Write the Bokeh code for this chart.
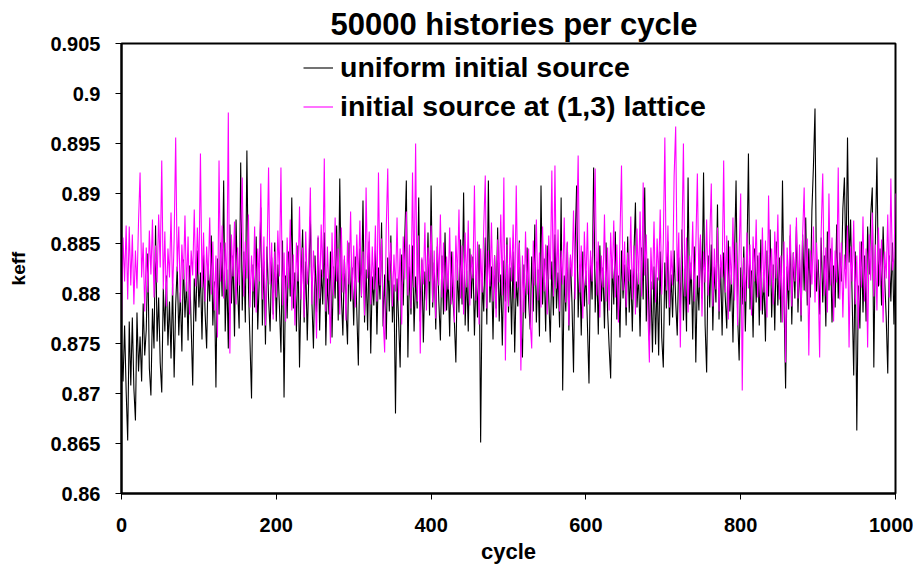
from bokeh.plotting import figure
from bokeh.models import FixedTicker, CustomJSTickFormatter, Legend, LegendItem
from bokeh.embed import file_html
from bokeh.resources import INLINE

# ---------------- data (keff, every 2nd cycle) ----------------
title_text = "50000 histories per cycle"
series_names = ["uniform initial source", "initial source at (1,3) lattice"]
x_ticks = [0, 200, 400, 600, 800, 1000]
y_ticks = [0.86, 0.865, 0.87, 0.875, 0.88, 0.885, 0.89, 0.895, 0.9, 0.905]
cycle_step = 2

uniform_000 = [0.8745, 0.8712, 0.8768, 0.8703, 0.8653, 0.8772, 0.8708, 0.8776, 0.8705, 0.8673,
               0.8781, 0.8722, 0.8757, 0.8712, 0.8790, 0.8738, 0.8764, 0.8840, 0.8725, 0.8698,
               0.8785, 0.8745, 0.8868, 0.8752, 0.8796, 0.8731, 0.8701, 0.8805, 0.8762, 0.8818,
               0.8748, 0.8792, 0.8735, 0.8810, 0.8716, 0.8789, 0.8827, 0.8758, 0.8801, 0.8742,
               0.8834, 0.8776, 0.8812, 0.8753, 0.8828, 0.8768, 0.8708, 0.8815, 0.8772, 0.8843]
uniform_100 = [0.8786, 0.8821, 0.8754, 0.8839, 0.8781, 0.8745, 0.8826, 0.8792, 0.8858, 0.8768,
               0.8812, 0.8706, 0.8835, 0.8779, 0.8851, 0.8797, 0.8913, 0.8762, 0.8824, 0.8745,
               0.8869, 0.8790, 0.8838, 0.8757, 0.8874, 0.8804, 0.8765, 0.8931, 0.8783, 0.8842,
               0.8771, 0.8943, 0.8806, 0.8752, 0.8695, 0.8829, 0.8786, 0.8857, 0.8764, 0.8815,
               0.8886, 0.8768, 0.8832, 0.8749, 0.8847, 0.8795, 0.8762, 0.8836, 0.8779, 0.8851]
uniform_200 = [0.8772, 0.8829, 0.8788, 0.8741, 0.8853, 0.8696, 0.8818, 0.8775, 0.8842, 0.8797,
               0.8896, 0.8785, 0.8821, 0.8762, 0.8848, 0.8726, 0.8809, 0.8864, 0.8771, 0.8832,
               0.8753, 0.8819, 0.8877, 0.8792, 0.8745, 0.8838, 0.8781, 0.8856, 0.8763, 0.8824,
               0.8789, 0.8861, 0.8748, 0.8815, 0.8779, 0.8842, 0.8756, 0.8827, 0.8795, 0.8868,
               0.8773, 0.8915, 0.8801, 0.8758, 0.8834, 0.8786, 0.8749, 0.8851, 0.8792, 0.8826]
uniform_300 = [0.8768, 0.8837, 0.8782, 0.8728, 0.8845, 0.8796, 0.8893, 0.8771, 0.8824, 0.8763,
               0.8852, 0.8740, 0.8817, 0.8788, 0.8843, 0.8759, 0.8826, 0.8794, 0.8871, 0.8767,
               0.8819, 0.8754, 0.8836, 0.8782, 0.8858, 0.8771, 0.8809, 0.8680, 0.8815, 0.8774,
               0.8726, 0.8839, 0.8788, 0.8856, 0.8913, 0.8736, 0.8827, 0.8779, 0.8848, 0.8762,
               0.8817, 0.8785, 0.8896, 0.8772, 0.8834, 0.8751, 0.8822, 0.8793, 0.8861, 0.8778]
uniform_400 = [0.8908, 0.8786, 0.8831, 0.8764, 0.8847, 0.8792, 0.8753, 0.8838, 0.8779, 0.8861,
               0.8783, 0.8818, 0.8757, 0.8842, 0.8796, 0.8773, 0.8731, 0.8829, 0.8781, 0.8854,
               0.8789, 0.8901, 0.8768, 0.8823, 0.8762, 0.8845, 0.8795, 0.8837, 0.8758, 0.8819,
               0.8776, 0.8849, 0.8651, 0.8814, 0.8782, 0.8856, 0.8769, 0.8913, 0.8791, 0.8827,
               0.8754, 0.8838, 0.8785, 0.8866, 0.8772, 0.8819, 0.8748, 0.8833, 0.8792, 0.8856]
uniform_500 = [0.8781, 0.8826, 0.8759, 0.8842, 0.8741, 0.8812, 0.8787, 0.8853, 0.8768, 0.8736,
               0.8829, 0.8775, 0.8846, 0.8793, 0.8764, 0.8837, 0.8782, 0.8869, 0.8771, 0.8824,
               0.8757, 0.8908, 0.8789, 0.8835, 0.8762, 0.8848, 0.8796, 0.8751, 0.8832, 0.8778,
               0.8859, 0.8785, 0.8821, 0.8766, 0.8896, 0.8703, 0.8818, 0.8782, 0.8851, 0.8763,
               0.8836, 0.8791, 0.8721, 0.8845, 0.8908, 0.8776, 0.8829, 0.8758, 0.8842, 0.8787]
uniform_600 = [0.8823, 0.8768, 0.8710, 0.8837, 0.8794, 0.8926, 0.8781, 0.8832, 0.8759, 0.8848,
               0.8792, 0.8826, 0.8765, 0.8851, 0.8783, 0.8747, 0.8715, 0.8834, 0.8789, 0.8862,
               0.8774, 0.8818, 0.8756, 0.8843, 0.8795, 0.8829, 0.8768, 0.8857, 0.8781, 0.8824,
               0.8762, 0.8838, 0.8891, 0.8786, 0.8821, 0.8757, 0.8846, 0.8794, 0.8906, 0.8772,
               0.8835, 0.8753, 0.8812, 0.8741, 0.8827, 0.8749, 0.8816, 0.8738, 0.8842, 0.8756]
uniform_700 = [0.8726, 0.8831, 0.8785, 0.8852, 0.8768, 0.8819, 0.8776, 0.8843, 0.8792, 0.8758,
               0.8836, 0.8781, 0.8864, 0.8773, 0.8825, 0.8762, 0.8916, 0.8789, 0.8831, 0.8754,
               0.8847, 0.8731, 0.8818, 0.8783, 0.8856, 0.8795, 0.8921, 0.8769, 0.8721, 0.8838,
               0.8786, 0.8849, 0.8763, 0.8827, 0.8791, 0.8889, 0.8774, 0.8832, 0.8758, 0.8841,
               0.8797, 0.8765, 0.8853, 0.8782, 0.8819, 0.8751, 0.8836, 0.8913, 0.8778, 0.8733]
uniform_800 = [0.8826, 0.8789, 0.8847, 0.8762, 0.8831, 0.8940, 0.8784, 0.8823, 0.8756, 0.8845,
               0.8791, 0.8838, 0.8768, 0.8854, 0.8779, 0.8816, 0.8752, 0.8843, 0.8797, 0.8864,
               0.8776, 0.8829, 0.8763, 0.8852, 0.8788, 0.8836, 0.8771, 0.8913, 0.8792, 0.8705,
               0.8827, 0.8784, 0.8858, 0.8769, 0.8841, 0.8795, 0.8867, 0.8781, 0.8834, 0.8772,
               0.8859, 0.8803, 0.8876, 0.8788, 0.8845, 0.8796, 0.8883, 0.8928, 0.8985, 0.8802]
uniform_900 = [0.8834, 0.8779, 0.8856, 0.8791, 0.8838, 0.8767, 0.8862, 0.8803, 0.8845, 0.8771,
               0.8828, 0.8786, 0.8869, 0.8795, 0.8841, 0.8812, 0.8885, 0.8916, 0.8824, 0.8956,
               0.8831, 0.8874, 0.8795, 0.8718, 0.8842, 0.8663, 0.8808, 0.8765, 0.8852, 0.8781,
               0.8838, 0.8772, 0.8867, 0.8819, 0.8879, 0.8906, 0.8726, 0.8853, 0.8936, 0.8807,
               0.8845, 0.8788, 0.8867, 0.8815, 0.8776, 0.8720, 0.8838, 0.8792, 0.8851, 0.8769,
               0.8842]

lattice_000 = [0.8773, 0.8856, 0.8812, 0.8868, 0.8794, 0.8867, 0.8808, 0.8859, 0.8789, 0.8843,
               0.8805, 0.8872, 0.8921, 0.8816, 0.8851, 0.8782, 0.8846, 0.8801, 0.8863, 0.8819,
               0.8874, 0.8796, 0.8848, 0.8811, 0.8879, 0.8826, 0.8933, 0.8804, 0.8862, 0.8787,
               0.8845, 0.8816, 0.8881, 0.8798, 0.8854, 0.8956, 0.8822, 0.8867, 0.8791, 0.8849,
               0.8814, 0.8878, 0.8802, 0.8857, 0.8779, 0.8843, 0.8818, 0.8884, 0.8807, 0.8866]
lattice_100 = [0.8819, 0.8940, 0.8806, 0.8861, 0.8792, 0.8847, 0.8813, 0.8876, 0.8799, 0.8852,
               0.8783, 0.8838, 0.8756, 0.8933, 0.8812, 0.8868, 0.8795, 0.8851, 0.8804, 0.8981,
               0.8740, 0.8859, 0.8817, 0.8872, 0.8789, 0.8846, 0.8808, 0.8863, 0.8916, 0.8797,
               0.8852, 0.8815, 0.8879, 0.8786, 0.8838, 0.8802, 0.8867, 0.8781, 0.8845, 0.8812,
               0.8910, 0.8794, 0.8857, 0.8768, 0.8833, 0.8926, 0.8809, 0.8851, 0.8774, 0.8842]
lattice_200 = [0.8796, 0.8863, 0.8817, 0.8926, 0.8788, 0.8841, 0.8772, 0.8856, 0.8805, 0.8874,
               0.8783, 0.8839, 0.8768, 0.8851, 0.8812, 0.8887, 0.8794, 0.8846, 0.8776, 0.8862,
               0.8809, 0.8834, 0.8906, 0.8789, 0.8843, 0.8807, 0.8755, 0.8858, 0.8795, 0.8869,
               0.8816, 0.8935, 0.8782, 0.8847, 0.8803, 0.8750, 0.8861, 0.8798, 0.8876, 0.8812,
               0.8845, 0.8779, 0.8866, 0.8801, 0.8838, 0.8773, 0.8853, 0.8809, 0.8882, 0.8794]
lattice_300 = [0.8848, 0.8786, 0.8859, 0.8811, 0.8873, 0.8797, 0.8842, 0.8778, 0.8906, 0.8815,
               0.8862, 0.8789, 0.8847, 0.8804, 0.8868, 0.8792, 0.8921, 0.8808, 0.8855, 0.8776,
               0.8741, 0.8864, 0.8925, 0.8813, 0.8851, 0.8787, 0.8839, 0.8802, 0.8876, 0.8793,
               0.8845, 0.8769, 0.8857, 0.8814, 0.8882, 0.8798, 0.8849, 0.8785, 0.8921, 0.8806,
               0.8950, 0.8792, 0.8858, 0.8740, 0.8836, 0.8809, 0.8871, 0.8783, 0.8846, 0.8812]
lattice_400 = [0.8868, 0.8791, 0.8843, 0.8775, 0.8856, 0.8808, 0.8879, 0.8796, 0.8851, 0.8782,
               0.8837, 0.8804, 0.8866, 0.8789, 0.8842, 0.8771, 0.8858, 0.8813, 0.8884, 0.8795,
               0.8848, 0.8779, 0.8861, 0.8806, 0.8873, 0.8788, 0.8839, 0.8815, 0.8908, 0.8793,
               0.8852, 0.8769, 0.8845, 0.8801, 0.8866, 0.8918, 0.8785, 0.8843, 0.8807, 0.8871,
               0.8792, 0.8838, 0.8776, 0.8854, 0.8811, 0.8879, 0.8798, 0.8916, 0.8733, 0.8849]
lattice_500 = [0.8787, 0.8856, 0.8812, 0.8869, 0.8795, 0.8908, 0.8806, 0.8851, 0.8723, 0.8838,
               0.8781, 0.8862, 0.8799, 0.8845, 0.8772, 0.8745, 0.8853, 0.8808, 0.8874, 0.8793,
               0.8841, 0.8786, 0.8867, 0.8802, 0.8849, 0.8779, 0.8858, 0.8814, 0.8923, 0.8797,
               0.8928, 0.8805, 0.8864, 0.8782, 0.8843, 0.8809, 0.8876, 0.8791, 0.8852, 0.8768,
               0.8839, 0.8817, 0.8883, 0.8794, 0.8857, 0.8938, 0.8801, 0.8848, 0.8775, 0.8862]
lattice_600 = [0.8808, 0.8871, 0.8789, 0.8843, 0.8812, 0.8866, 0.8925, 0.8798, 0.8852, 0.8776,
               0.8838, 0.8806, 0.8879, 0.8792, 0.8846, 0.8783, 0.8861, 0.8815, 0.8873, 0.8796,
               0.8849, 0.8771, 0.8856, 0.8928, 0.8803, 0.8852, 0.8786, 0.8841, 0.8812, 0.8877,
               0.8794, 0.8848, 0.8779, 0.8865, 0.8809, 0.8882, 0.8797, 0.8911, 0.8818, 0.8859,
               0.8785, 0.8731, 0.8846, 0.8804, 0.8872, 0.8791, 0.8855, 0.8813, 0.8884, 0.8799]
lattice_700 = [0.8851, 0.8956, 0.8803, 0.8868, 0.8786, 0.8843, 0.8808, 0.8918, 0.8967, 0.8812,
               0.8861, 0.8746, 0.8849, 0.8950, 0.8797, 0.8856, 0.8781, 0.8838, 0.8814, 0.8872,
               0.8792, 0.8847, 0.8920, 0.8806, 0.8859, 0.8777, 0.8842, 0.8811, 0.8874, 0.8798,
               0.8853, 0.8910, 0.8787, 0.8845, 0.8804, 0.8866, 0.8782, 0.8839, 0.8816, 0.8933,
               0.8801, 0.8858, 0.8774, 0.8847, 0.8809, 0.8876, 0.8793, 0.8851, 0.8768, 0.8843]
lattice_800 = [0.8900, 0.8703, 0.8836, 0.8792, 0.8861, 0.8805, 0.8849, 0.8778, 0.8857, 0.8812,
               0.8874, 0.8796, 0.8841, 0.8783, 0.8866, 0.8801, 0.8853, 0.8776, 0.8898, 0.8808,
               0.8845, 0.8789, 0.8862, 0.8815, 0.8879, 0.8794, 0.8838, 0.8771, 0.8852, 0.8731,
               0.8846, 0.8803, 0.8869, 0.8787, 0.8841, 0.8812, 0.8876, 0.8795, 0.8849, 0.8778,
               0.8858, 0.8906, 0.8802, 0.8855, 0.8738, 0.8843, 0.8809, 0.8867, 0.8791, 0.8851]
lattice_900 = [0.8815, 0.8736, 0.8862, 0.8920, 0.8798, 0.8846, 0.8781, 0.8900, 0.8808, 0.8856,
               0.8772, 0.8843, 0.8811, 0.8926, 0.8794, 0.8851, 0.8776, 0.8839, 0.8805, 0.8868,
               0.8746, 0.8847, 0.8812, 0.8873, 0.8789, 0.8838, 0.8764, 0.8852, 0.8806, 0.8877,
               0.8792, 0.8845, 0.8746, 0.8859, 0.8813, 0.8881, 0.8797, 0.8849, 0.8783, 0.8866,
               0.8808, 0.8854, 0.8771, 0.8842, 0.8815, 0.8879, 0.8796, 0.8915, 0.8823, 0.8836,
               0.8900]

uniform_segments = [(0, uniform_000), (100, uniform_100), (200, uniform_200), (300, uniform_300),
                    (400, uniform_400), (500, uniform_500), (600, uniform_600), (700, uniform_700),
                    (800, uniform_800), (900, uniform_900)]
lattice_segments = [(0, lattice_000), (100, lattice_100), (200, lattice_200), (300, lattice_300),
                    (400, lattice_400), (500, lattice_500), (600, lattice_600), (700, lattice_700),
                    (800, lattice_800), (900, lattice_900)]


def join(segments):
    xs, ys = [], []
    for start, vals in segments:
        for i, v in enumerate(vals):
            xs.append(start + cycle_step * i)
            ys.append(v)
    return xs, ys


ux, uy = join(uniform_segments)
lx, ly = join(lattice_segments)

FONT = "Liberation Sans"

p = figure(width=913, height=570, x_range=(0, 1000), y_range=(0.86, 0.905),
           output_backend="svg", toolbar_location=None,
           min_border_left=121, min_border_right=18, min_border_top=43, min_border_bottom=77)
p.background_fill_color = "white"
p.border_fill_color = "white"
p.outline_line_color = "black"
p.outline_line_width = 2
p.xgrid.visible = False
p.ygrid.visible = False

p.title.text = title_text
p.title.align = "left"
p.title.text_font = FONT
p.title.text_font_style = "bold"
p.title.text_font_size = "31px"
p.title.text_color = "black"
p.title.standoff = 4
p.title.offset = 209

r1 = p.line(ux, uy, line_color="#000000", line_width=1.1)
r2 = p.line(lx, ly, line_color="#FF00FF", line_width=1.1)

legend = Legend(items=[LegendItem(label=series_names[0], renderers=[r1]),
                       LegendItem(label=series_names[1], renderers=[r2])],
                location=(182, 367), orientation="vertical")
legend.border_line_color = None
legend.background_fill_alpha = 0
legend.padding = 0
legend.margin = 0
legend.spacing = 0
legend.glyph_width = 30
legend.glyph_height = 39
legend.label_height = 39
legend.label_standoff = 7
legend.label_text_font = FONT
legend.label_text_font_style = "bold"
legend.label_text_font_size = "28.5px"
legend.label_text_color = "black"
p.add_layout(legend)

for ax in (p.xaxis[0], p.yaxis[0]):
    ax.axis_line_color = "black"
    ax.axis_line_width = 2
    ax.major_tick_line_color = "black"
    ax.major_tick_line_width = 1
    ax.major_tick_out = 6
    ax.major_tick_in = 0
    ax.minor_tick_line_color = None
    ax.major_label_text_font = FONT
    ax.major_label_text_font_style = "bold"
    ax.major_label_text_font_size = "20px"
    ax.major_label_text_color = "black"
    ax.axis_label_text_font = FONT
    ax.axis_label_text_font_style = "bold"
    ax.axis_label_text_color = "black"

p.xaxis.ticker = FixedTicker(ticks=x_ticks)
p.yaxis.ticker = FixedTicker(ticks=y_ticks)
p.yaxis.formatter = CustomJSTickFormatter(code="return String(Math.round(tick * 1000) / 1000);")
p.xaxis.axis_label = "cycle"
p.yaxis.axis_label = "keff"
p.xaxis.axis_label_text_font_size = "22px"
p.yaxis.axis_label_text_font_size = "19px"
p.xaxis.major_label_standoff = 18
p.yaxis.major_label_standoff = 15
p.xaxis.axis_label_standoff = 4
p.yaxis.axis_label_standoff = 18

open("out.html", "w").write(file_html(p, INLINE))
